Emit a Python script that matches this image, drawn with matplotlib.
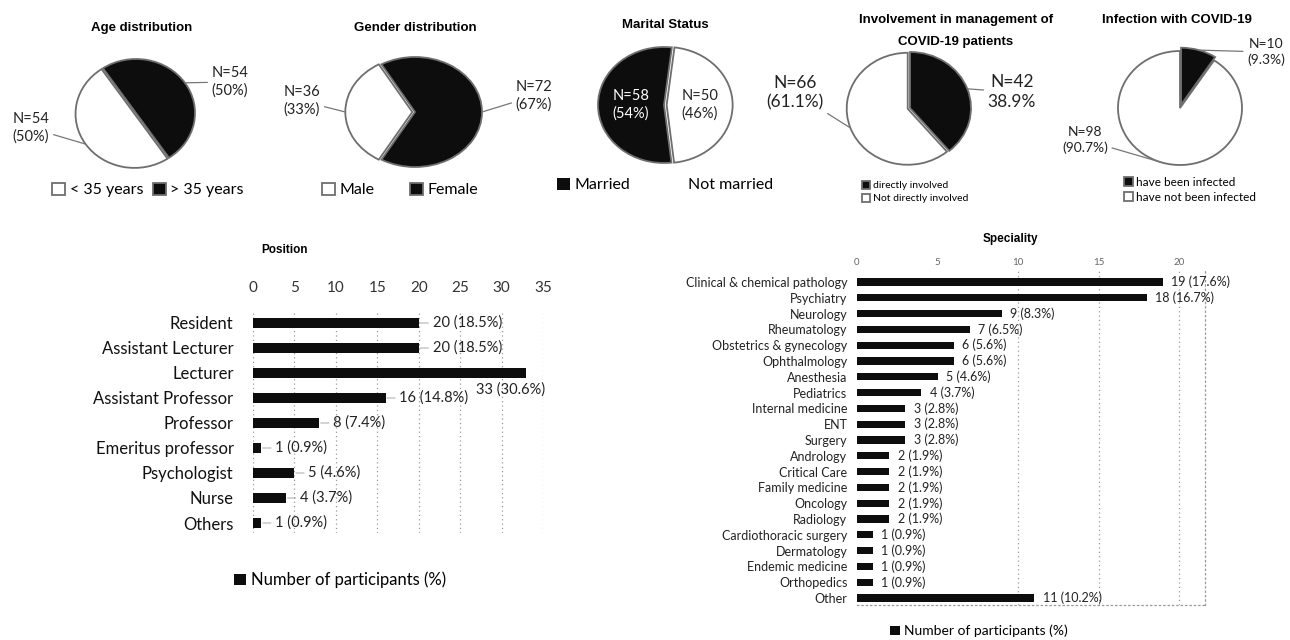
import matplotlib
matplotlib.use("Agg")
import matplotlib.pyplot as plt
from matplotlib.patches import Patch
import numpy as np

plt.rcParams['font.family'] = ['Lato', 'DejaVu Sans']

# ---------------- data ----------------
TOTAL = 108

age_labels = ['< 35 years', '> 35 years']
age_counts = [54, 54]

gender_labels = ['Male', 'Female']
gender_counts = [36, 72]

marital_labels = ['Married', 'Not married']
marital_counts = [58, 50]

involve_labels = ['directly involved', 'Not directly involved']
involve_counts = [42, 66]

infect_labels = ['have been infected', 'have not been infected']
infect_counts = [10, 98]

position_labels = ['Resident', 'Assistant Lecturer', 'Lecturer', 'Assistant Professor',
                   'Professor', 'Emeritus professor', 'Psychologist', 'Nurse', 'Others']
position_counts = [20, 20, 33, 16, 8, 1, 5, 4, 1]

spec_labels = ['Clinical & chemical pathology', 'Psychiatry', 'Neurology', 'Rheumatology',
               'Obstetrics & gynecology', 'Ophthalmology', 'Anesthesia', 'Pediatrics',
               'Internal medicine', 'ENT', 'Surgery', 'Andrology', 'Critical Care',
               'Family medicine', 'Oncology', 'Radiology', 'Cardiothoracic surgery',
               'Dermatology', 'Endemic medicine', 'Orthopedics', 'Other']
spec_counts = [19, 18, 9, 7, 6, 6, 5, 4, 3, 3, 3, 2, 2, 2, 2, 2, 1, 1, 1, 1, 11]

position_ticks = [0, 5, 10, 15, 20, 25, 30, 35]
spec_ticks = [0, 5, 10, 15, 20]

# ---------------- layout helpers ----------------
W, H = 1290, 640
fig = plt.figure(figsize=(W / 100, H / 100), dpi=100)
BLACK = '#0d0d0d'
EDGE = '#6e6e6e'
TITLE_FONT = dict(family=['Liberation Sans', 'DejaVu Sans'], fontweight='bold')


def fx(x):
    return x / W


def fy(y):
    return 1 - y / H


def pie_chart(counts, colors, cx, cy, rx, ry, start, explode):
    m = 1.4
    ax = fig.add_axes([fx(cx - m * rx), fy(cy + m * ry), 2 * m * rx / W, 2 * m * ry / H])
    wedges, _ = ax.pie(counts, colors=colors, startangle=start, counterclock=False,
                       explode=explode,
                       wedgeprops=dict(edgecolor=EDGE, linewidth=1.3))
    ax.set_aspect('auto')
    ax.set_xlim(-m, m)
    ax.set_ylim(-m, m)
    ax.axis('off')

    def to_data(px, py):
        return ((px - cx) / rx, (cy - py) / ry)

    return ax, wedges, to_data


def edge_point(w, frac=0.5, r=1.0):
    th = np.deg2rad(w.theta1 + (w.theta2 - w.theta1) * frac)
    return (w.center[0] + r * w.r * np.cos(th), w.center[1] + r * w.r * np.sin(th))


def leader(ax, text, xy, xytext, size, ha='center', color='#222'):
    ax.annotate(text, xy=xy, xytext=xytext, ha=ha, va='center', fontsize=size,
                color=color, linespacing=1.25, annotation_clip=False,
                arrowprops=dict(arrowstyle='-', color='#777', lw=0.9,
                                shrinkA=1, shrinkB=0))


def pie_legend(ax, handles, labels, x, y, ncol, size, colsp=1.0):
    ax.legend(handles, labels, loc='center', bbox_to_anchor=(fx(x), fy(y)),
              bbox_transform=fig.transFigure, ncol=ncol, frameon=False,
              fontsize=size, handlelength=0.8, handleheight=0.8,
              handletextpad=0.3, columnspacing=colsp, labelspacing=0.35,
              borderpad=0)


def pct0(n):
    return f"{n / TOTAL * 100:.0f}%"


def pct1(n):
    return f"{n / TOTAL * 100:.1f}%"


# ---------------- Age distribution ----------------
fig.text(fx(142), fy(28), 'Age distribution', ha='center', va='center', fontsize=9.5, **TITLE_FONT)
ax, w, td = pie_chart(age_counts, ['white', BLACK], 136, 113, 59, 54, -56, [0.03, 0])
leader(ax, f"N={age_counts[1]}\n({pct0(age_counts[1])})", edge_point(w[1]), td(230, 82), 10.5)
leader(ax, f"N={age_counts[0]}\n({pct0(age_counts[0])})", edge_point(w[0]), td(31, 128), 10.5)
pie_legend(ax, w, age_labels, 148, 190, 2, 11.5, 0.6)

# ---------------- Gender distribution ----------------
fig.text(fx(415), fy(28), 'Gender distribution', ha='center', va='center', fontsize=9.5, **TITLE_FONT)
ax, w, td = pie_chart(gender_counts, ['white', BLACK], 415, 112, 67, 55, 240, [0.04, 0])
leader(ax, f"N={gender_counts[0]}\n({pct0(gender_counts[0])})", edge_point(w[0]), td(302, 101), 10.5)
leader(ax, f"N={gender_counts[1]}\n({pct0(gender_counts[1])})", edge_point(w[1]), td(534, 96), 10.5)
pie_legend(ax, w, gender_labels, 400, 190, 2, 11.5, 2.2)

# ---------------- Marital status ----------------
fig.text(fx(665), fy(25), 'Marital Status', ha='center', va='center', fontsize=9.5, **TITLE_FONT)
ax, w, td = pie_chart(marital_counts, [BLACK, 'white'], 664, 105, 66, 58, 276.5, [0, 0.04])
for wedge, n, col in zip(w, marital_counts, ['white', '#222']):
    px, py = edge_point(wedge, 0.5, 0.5)
    ax.text(px, py, f"N={n}\n({pct0(n)})", ha='center', va='center', fontsize=10.5,
            color=col, linespacing=1.3)
marital_handles = [Patch(facecolor=wd.get_facecolor(), edgecolor='none') for wd in w]
pie_legend(ax, marital_handles, marital_labels, 665, 185, 2, 11.5, 2.5)

# ---------------- Involvement ----------------
fig.text(fx(956), fy(20), 'Involvement in management of', ha='center', va='center',
         fontsize=9.5, **TITLE_FONT)
fig.text(fx(956), fy(42), 'COVID-19 patients', ha='center', va='center', fontsize=9.5, **TITLE_FONT)
ax, w, td = pie_chart(involve_counts, [BLACK, 'white'], 910, 108, 61, 56, 90, [0, 0.04])
leader(ax, f"N={involve_counts[0]}\n{pct1(involve_counts[0])}", edge_point(w[0]), td(1012, 92), 12.5)
leader(ax, f"N={involve_counts[1]}\n({pct1(involve_counts[1])})", edge_point(w[1]), td(795, 93), 12.5)
pie_legend(ax, w, involve_labels, 915, 192, 1, 7.5)

# ---------------- Infection ----------------
fig.text(fx(1177), fy(20), 'Infection with COVID-19', ha='center', va='center', fontsize=9.5, **TITLE_FONT)
ax, w, td = pie_chart(infect_counts, [BLACK, 'white'], 1180, 108, 62, 57, 90, [0.06, 0])
leader(ax, f"N={infect_counts[0]}\n({pct1(infect_counts[0])})", edge_point(w[0]), td(1266, 52), 10)
leader(ax, f"N={infect_counts[1]}\n({pct1(infect_counts[1])})", edge_point(w[1]), td(1085, 140), 10)
pie_legend(ax, w, infect_labels, 1190, 190, 1, 8.5)

# ---------------- Position ----------------
fig.text(fx(284), fy(250), 'Position', ha='center', va='center', fontsize=8.5, **TITLE_FONT)
axp = fig.add_axes([fx(253), fy(533), (543 - 253) / W, (533 - 312) / H])
yp = np.arange(len(position_labels))
bars = axp.barh(yp, position_counts, height=0.42, color=BLACK, label='Number of participants (%)')
axp.set_xlim(position_ticks[0], position_ticks[-1])
axp.set_ylim(8.4, -0.44)
axp.set_xticks(position_ticks)
axp.xaxis.tick_top()
axp.tick_params(axis='x', length=0, pad=12, labelsize=11, labelcolor='#333')
axp.set_yticks(yp)
axp.set_yticklabels(position_labels)
axp.tick_params(axis='y', length=0, pad=14, labelsize=12, labelcolor='#111')
axp.xaxis.grid(True, linestyle=(0, (1, 2.5)), color='#999', lw=0.9)
axp.set_axisbelow(True)
for s in axp.spines.values():
    s.set_visible(False)
for i, v in enumerate(position_counts):
    txt = f"{v} ({pct1(v)})"
    if v > 30:
        axp.annotate(txt, xy=(v, i), xytext=(-36, -12), textcoords='offset points',
                     ha='left', va='center', fontsize=10.5, color='#222', annotation_clip=False)
    else:
        axp.annotate(txt, xy=(v, i), xytext=(10, 0), textcoords='offset points',
                     ha='left', va='center', fontsize=10.5, color='#222', annotation_clip=False,
                     arrowprops=dict(arrowstyle='-', color='#999', lw=0.6, shrinkA=1, shrinkB=1))
axp.legend(handles=[bars], loc='center', bbox_to_anchor=(fx(340), fy(580)),
           bbox_transform=fig.transFigure, frameon=False, fontsize=12,
           handlelength=0.7, handleheight=0.7, handletextpad=0.3, borderpad=0)

# ---------------- Speciality ----------------
fig.text(fx(1010), fy(239), 'Speciality', ha='center', va='center', fontsize=8.5, **TITLE_FONT)
axs = fig.add_axes([fx(857), fy(605), (1205 - 857) / W, (605 - 270) / H])
ys = np.arange(len(spec_labels))
bars2 = axs.barh(ys, spec_counts, height=0.45, color=BLACK, label='Number of participants (%)')
axs.set_xlim(0, 21.6)
axs.set_ylim(20.44, -0.76)
axs.set_xticks(spec_ticks)
axs.xaxis.tick_top()
axs.tick_params(axis='x', length=0, pad=2, labelsize=7, labelcolor='#666')
axs.set_yticks(ys)
axs.set_yticklabels(spec_labels)
axs.tick_params(axis='y', length=0, pad=7, labelsize=9, labelcolor='#222')
for t in spec_ticks[2:]:
    axs.axvline(t, linestyle=(0, (1, 2.5)), color='#999', lw=0.9, zorder=0)
for side in ['top', 'left']:
    axs.spines[side].set_visible(False)
for side in ['right', 'bottom']:
    axs.spines[side].set_linestyle((0, (1, 2.5)))
    axs.spines[side].set_color('#999')
    axs.spines[side].set_linewidth(0.9)
for i, v in enumerate(spec_counts):
    axs.annotate(f"{v} ({pct1(v)})", xy=(v, i), xytext=(6, 0), textcoords='offset points',
                 ha='left', va='center', fontsize=9, color='#222', annotation_clip=False)
axs.legend(handles=[bars2], loc='center', bbox_to_anchor=(fx(979), fy(631)),
           bbox_transform=fig.transFigure, frameon=False, fontsize=10,
           handlelength=0.7, handleheight=0.7, handletextpad=0.3, borderpad=0)

fig.savefig('out.png', dpi=100, facecolor='white')
